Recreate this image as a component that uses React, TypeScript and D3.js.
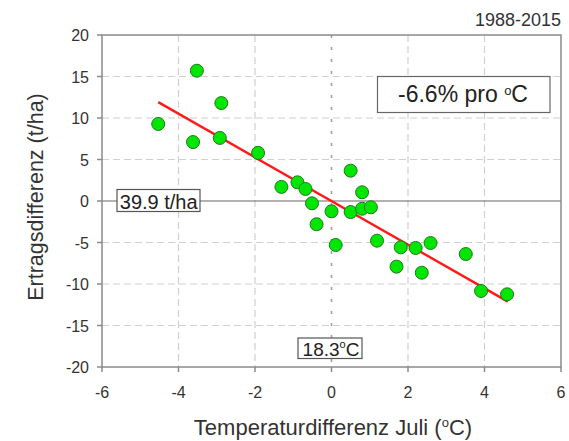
import React from "react";
import * as d3 from "d3";

const tempDiff = [-4.53, -3.52, -3.62, -2.88, -2.92, -1.92, -1.31, -0.89, -0.68, -0.51, -0.39, 0.0, 0.11, 0.5, 0.5, 0.8, 0.8, 1.03, 1.19, 1.7, 1.81, 2.2, 2.59, 2.36, 3.51, 3.91, 4.59];
const yieldDiff = [9.28, 15.7, 7.1, 11.8, 7.6, 5.8, 1.7, 2.25, 1.45, -0.28, -2.8, -1.24, -5.3, 3.65, -1.33, 1.05, -0.93, -0.76, -4.78, -7.91, -5.58, -5.66, -5.06, -8.64, -6.39, -10.84, -11.24];
const xTicks = [-6, -4, -2, 0, 2, 4, 6];
const yTicks = [-20, -15, -10, -5, 0, 5, 10, 15, 20];
const trendSlope = -2.63;
const trendIntercept = 0.0;
const trendRange = [-4.53, 4.61];

const W = 569, H = 441;
const L = 102, R = 561, T = 35, B = 367;
const FONT = "'Liberation Sans', Arial, sans-serif";

export default function App() {
  const x = d3.scaleLinear().domain([-6, 6]).range([L, R]);
  const y = d3.scaleLinear().domain([-20, 20]).range([B, T]);
  const pts = tempDiff.map((t, i) => ({ t, v: yieldDiff[i] }));
  const line = d3.line<number>().x((d) => x(d)).y((d) => y(trendSlope * d + trendIntercept));
  return (
    <svg width={W} height={H} style={{ position: "absolute", left: 0, top: 0, background: "#fff" }} fontFamily={FONT}>
      <rect x={0} y={0} width={W} height={H} fill="#fff" />
      {xTicks.filter((v) => v !== -6 && v !== 6 && v !== 0).map((v) => (
        <line key={"gx" + v} x1={x(v)} x2={x(v)} y1={T} y2={B} stroke="#d0d0d0" strokeWidth={1.2} strokeDasharray="7,4" />
      ))}
      {yTicks.filter((v) => v !== -20 && v !== 20 && v !== 0).map((v) => (
        <line key={"gy" + v} x1={L} x2={R} y1={y(v)} y2={y(v)} stroke="#d0d0d0" strokeWidth={1.2} strokeDasharray="7,4" />
      ))}
      <line x1={x(0)} x2={x(0)} y1={T} y2={B} stroke="#a0a0a0" strokeWidth={1.6} strokeDasharray="3,9" />
      <line x1={L} x2={R} y1={y(0)} y2={y(0)} stroke="#666" strokeWidth={1.2} />
      <rect x={L} y={T} width={R - L} height={B - T} fill="none" stroke="#8a8a8a" strokeWidth={1.5} />
      {xTicks.map((v) => (
        <g key={"xt" + v}>
          <line x1={x(v)} x2={x(v)} y1={B} y2={B + 5} stroke="#8a8a8a" strokeWidth={1.5} />
          <text x={x(v)} y={398} textAnchor="middle" fontSize={16} fill="#333">{v}</text>
        </g>
      ))}
      {yTicks.map((v) => (
        <g key={"yt" + v}>
          <line x1={L - 5} x2={L} y1={y(v)} y2={y(v)} stroke="#8a8a8a" strokeWidth={1.5} />
          <text x={89} y={y(v) + 6} textAnchor="end" fontSize={16} fill="#333">{v}</text>
        </g>
      ))}
      <path d={line(trendRange) || ""} stroke="#ff1a1a" strokeWidth={2.4} fill="none" />
      {pts.map((p, i) => (
        <circle key={i} cx={x(p.t)} cy={y(p.v)} r={6.5} fill="#00e600" stroke="#1f7a1f" strokeWidth={1} />
      ))}
      <rect x={117} y={189.5} width={83} height={22} fill="#fff" stroke="#555" strokeWidth={1.2} />
      <text x={158.7} y={208.5} textAnchor="middle" fontSize={20} fill="#222">39.9 t/ha</text>
      <rect x={298} y={338} width={64} height={20.5} fill="#fff" stroke="#555" strokeWidth={1.2} />
      <text x={331} y={356} textAnchor="middle" fontSize={19} fill="#222">18.3<tspan fontSize={11} dy={-8}>o</tspan><tspan dy={8}>C</tspan></text>
      <rect x={377.5} y={76.5} width={172.5} height={36} fill="#fff" stroke="#666" strokeWidth={1.2} />
      <text x={463} y={102} textAnchor="middle" fontSize={23} fill="#222">-6.6% pro <tspan fontSize={13} dy={-7}>o</tspan><tspan dy={7}>C</tspan></text>
      <text x={561} y={26} textAnchor="end" fontSize={18} fill="#333">1988-2015</text>
      <text x={333} y={435} textAnchor="middle" fontSize={22} fill="#333">Temperaturdifferenz Juli (<tspan fontSize={13} dy={-8}>o</tspan><tspan dy={8}>C)</tspan></text>
      <text transform={`translate(43,197) rotate(-90)`} textAnchor="middle" fontSize={21.5} fill="#333">Ertragsdifferenz (t/ha)</text>
    </svg>
  );
}
